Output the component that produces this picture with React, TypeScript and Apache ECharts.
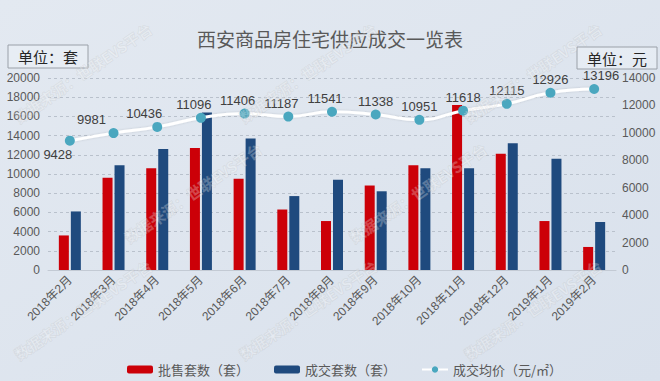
import React, { useEffect, useRef } from "react";
import * as echarts from "echarts";

const categories = [
  "2018年2月", "2018年3月", "2018年4月", "2018年5月", "2018年6月", "2018年7月", "2018年8月",
  "2018年9月", "2018年10月", "2018年11月", "2018年12月", "2019年1月", "2019年2月",
];
const wholesaleUnits = [3600, 9600, 10600, 12700, 9500, 6300, 5100, 8800, 10900, 17200, 12100, 5100, 2400];
const dealUnits = [6100, 10900, 12600, 16400, 13700, 7700, 9400, 8200, 10600, 10600, 13200, 11600, 5000];
const avgPrice = [9428, 9981, 10436, 11096, 11406, 11187, 11541, 11338, 10951, 11618, 12115, 12926, 13196];

const leftTicks = { min: 0, max: 20000, interval: 2000 };
const rightTicks = { min: 0, max: 14000, interval: 2000 };

const seriesNames = ["批售套数（套）", "成交套数（套）", "成交均价（元/㎡）"];
const titleText = "西安商品房住宅供应成交一览表";
const leftUnit = "单位：套";
const rightUnit = "单位：元";
const watermarkText = "数据来源：世联EVS平台";

export default function App() {
  const ref = useRef<HTMLDivElement>(null);
  useEffect(() => {
    document.body.style.margin = "0";
    if (!ref.current) return;
    const chart = echarts.init(ref.current, null, { renderer: "svg" });
    const font = "'Liberation Sans', 'Noto Sans CJK SC', sans-serif";
    const cjk = "'Noto Sans CJK SC', sans-serif";

    const marks: any[] = [];
    const rows = [125, 245, 362];
    rows.forEach((y, r) => {
      const cols = r % 2 === 0 ? [20, 245, 470] : [130, 355];
      cols.forEach((x) => {
        marks.push({
          type: "text",
          x,
          y,
          rotation: 0.6,
          silent: true,
          z: 100,
          style: {
            text: watermarkText,
            font: `bold 15px ${cjk}`,
            fill: "rgba(255,255,255,0.25)",
            stroke: "rgba(140,140,140,0.14)",
            lineWidth: 1,
            textVerticalAlign: "bottom",
          },
        });
      });
    });

    const priceData = avgPrice.map((v, i) => {
      if (i === 0) return { value: v, label: { position: "bottom", offset: [-12, 0] } };
      if (i === 1) return { value: v, label: { offset: [-22, 0] } };
      if (i === 2) return { value: v, label: { offset: [-13, 0] } };
      if (i >= 3 && i <= 6) return { value: v, label: { offset: [-7, 0] } };
      if (i === 12) return { value: v, label: { offset: [7, 0] } };
      return v;
    });

    const plain = (v: number) => String(v);

    chart.setOption({
      animation: false,
      backgroundColor: {
        type: "linear", x: 0, y: 0, x2: 1, y2: 1,
        colorStops: [
          { offset: 0, color: "#e3e9f1" },
          { offset: 1, color: "#d9e1ec" },
        ],
      },
      title: {
        text: titleText,
        left: "center",
        top: 29,
        padding: 0,
        textStyle: { fontFamily: cjk, fontSize: 19, fontWeight: "normal", color: "#595959" },
      },
      grid: { left: 48, right: 44, top: 78, bottom: 111 },
      legend: {
        left: 122,
        top: 358,
        itemWidth: 26,
        itemHeight: 8,
        itemGap: 25,
        textStyle: { fontFamily: cjk, fontSize: 13, color: "#595959" },
        data: seriesNames,
      },
      xAxis: {
        type: "category",
        data: categories,
        axisLine: { lineStyle: { color: "#c3cad4" } },
        axisTick: { show: false },
        axisLabel: {
          rotate: 45,
          interval: 0,
          margin: 8,
          fontSize: 12,
          color: "#595959",
          fontFamily: font,
        },
      },
      yAxis: [
        {
          type: "value",
          ...leftTicks,
          axisLine: { show: false },
          axisTick: { show: false },
          axisLabel: { fontSize: 12, color: "#595959", fontFamily: font, margin: 8, formatter: plain },
          splitLine: { lineStyle: { color: "#b9c1cc", type: [3, 3] } },
        },
        {
          type: "value",
          ...rightTicks,
          position: "right",
          axisLine: { show: false },
          axisTick: { show: false },
          axisLabel: { fontSize: 12, color: "#595959", fontFamily: font, margin: 6, formatter: plain },
          splitLine: { show: false },
        },
      ],
      series: [
        {
          name: seriesNames[0],
          type: "bar",
          data: wholesaleUnits,
          barWidth: 10,
          barGap: "20%",
          itemStyle: { color: "#cc0008" },
        },
        {
          name: seriesNames[1],
          type: "bar",
          data: dealUnits,
          barWidth: 10,
          itemStyle: { color: "#1f4a7e" },
        },
        {
          name: seriesNames[2],
          type: "line",
          yAxisIndex: 1,
          data: priceData,
          smooth: true,
          symbol: "circle",
          symbolSize: 10,
          z: 10,
          lineStyle: { color: "#ffffff", width: 3, shadowColor: "rgba(0,0,0,0.15)", shadowBlur: 2 },
          itemStyle: { color: "#4aa7bf" },
          label: {
            show: true,
            position: "top",
            distance: 2,
            fontSize: 13,
            color: "#404040",
            fontFamily: font,
            formatter: (p: any) => String(p.value),
          },
        },
      ],
      graphic: [
        {
          type: "group",
          children: [
            {
              type: "rect",
              shape: { x: 8, y: 45, width: 80, height: 23 },
              style: { fill: "rgba(235,240,246,0.6)", stroke: "#9aa0a8", lineWidth: 1 },
            },
            {
              type: "text",
              x: 48, y: 56.5,
              style: { text: leftUnit, font: `15px ${cjk}`, fill: "#262626", textAlign: "center", textVerticalAlign: "middle" },
            },
            {
              type: "rect",
              shape: { x: 577, y: 47, width: 80, height: 22 },
              style: { fill: "rgba(235,240,246,0.6)", stroke: "#9aa0a8", lineWidth: 1 },
            },
            {
              type: "text",
              x: 617, y: 58,
              style: { text: rightUnit, font: `15px ${cjk}`, fill: "#262626", textAlign: "center", textVerticalAlign: "middle" },
            },
          ],
        },
        ...marks,
      ],
    });
    return () => chart.dispose();
  }, []);
  return <div ref={ref} style={{ width: 660, height: 381 }} />;
}
